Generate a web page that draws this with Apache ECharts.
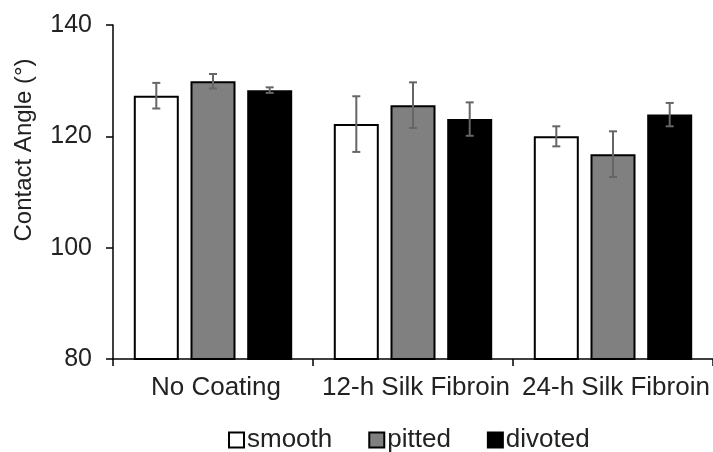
<!DOCTYPE html>
<html>
<head>
<meta charset="utf-8">
<script src="https://cdn.jsdelivr.net/npm/echarts@6/dist/echarts.min.js"></script>
<style>html,body{margin:0;padding:0;background:#fff}#c{width:713px;height:452px}</style>
</head>
<body>
<div id="c"></div>
<script>
const categories = ['No Coating', '12-h Silk Fibroin', '24-h Silk Fibroin'];
const seriesNames = ['smooth', 'pitted', 'divoted'];
const smooth = [127.3, 122.2, 120.0];
const pitted = [129.9, 125.6, 116.8];
const divoted = [128.3, 123.1, 123.9];
const smoothErr = [2.3, 5.0, 1.8];
const pittedErr = [1.3, 4.1, 4.1];
const divotedErr = [0.5, 3.0, 2.1];
const yTicks = [80, 100, 120, 140];

const fills = ['#ffffff', '#808080', '#000000'];
const values = [smooth, pitted, divoted];
const errs = [smoothErr, pittedErr, divotedErr];
const BAR_W = 45, GAP = 11.7;
const FONT = 'Liberation Sans, Arial, sans-serif';
const TXT = '#222222';

const chart = echarts.init(document.getElementById('c'));
const series = [];
values.forEach((vals, i) => {
  series.push({
    name: seriesNames[i], type: 'bar', data: vals,
    barWidth: BAR_W, barGap: (GAP / BAR_W * 100) + '%',
    itemStyle: { color: fills[i], borderColor: '#000', borderWidth: 2 },
    silent: true
  });
});
values.forEach((vals, i) => {
  const off = (i - 1) * (BAR_W + GAP);
  series.push({
    name: 'err' + i, type: 'custom', z: 5, silent: true,
    data: vals.map((v, k) => [k, v, errs[i][k]]),
    renderItem: function (params, api) {
      const k = api.value(0), v = api.value(1), e = api.value(2);
      const top = api.coord([k, v + e]);
      const bot = api.coord([k, v - e]);
      const x = top[0] + off;
      const cap = 4;
      const st = { stroke: '#666666', lineWidth: 2 };
      return { type: 'group', children: [
        { type: 'line', shape: { x1: x, y1: top[1], x2: x, y2: bot[1] }, style: st },
        { type: 'line', shape: { x1: x - cap, y1: top[1], x2: x + cap, y2: top[1] }, style: st },
        { type: 'line', shape: { x1: x - cap, y1: bot[1], x2: x + cap, y2: bot[1] }, style: st }
      ]};
    }
  });
});

chart.setOption({
  animation: false,
  backgroundColor: '#fff',
  grid: { left: 113, right: -9, top: 25, bottom: 93, containLabel: false },
  legend: {
    data: seriesNames, top: 422, left: 223,
    itemWidth: 15, itemHeight: 15, itemGap: 36,
    icon: 'rect',
    itemStyle: { borderColor: '#000', borderWidth: 2 },
    textStyle: { fontFamily: FONT, fontSize: 26, color: TXT, padding: [0, 0, 0, -2] }
  },
  xAxis: {
    type: 'category', data: categories,
    axisLine: { lineStyle: { color: '#000', width: 1.5 } },
    axisTick: { show: true, interval: 0, length: 7, lineStyle: { color: '#000', width: 1.5 } },
    axisLabel: { fontFamily: FONT, fontSize: 26, color: TXT, margin: 16, interval: 0, padding: [0, 0, 0, 6] }
  },
  yAxis: {
    type: 'value', min: yTicks[0], max: yTicks[yTicks.length - 1], interval: 20,
    name: 'Contact Angle (°)', nameLocation: 'middle', nameGap: 77,
    nameTextStyle: { fontFamily: FONT, fontSize: 24, color: TXT, padding: [0, 0, 0, 84] },
    axisLine: { show: true, lineStyle: { color: '#000', width: 1.5 } },
    axisTick: { show: true, length: 7, lineStyle: { color: '#000', width: 1.5 } },
    splitLine: { show: false },
    axisLabel: { fontFamily: FONT, fontSize: 25, color: TXT, margin: 21 }
  },
  series: series
});
</script>
</body>
</html>
